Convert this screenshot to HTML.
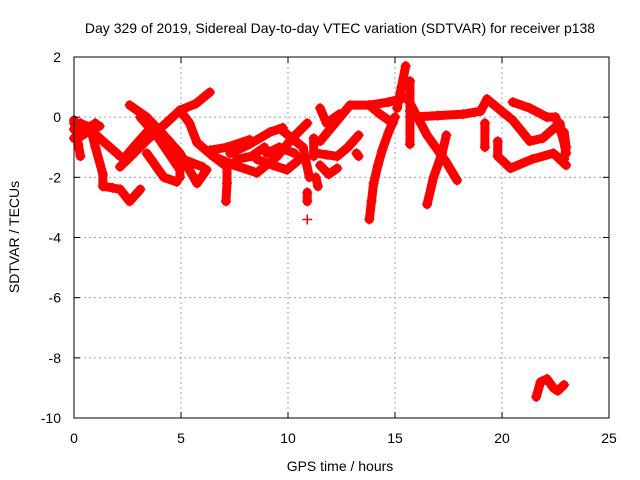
<!DOCTYPE html>
<html><head><meta charset="utf-8"><style>
body{margin:0;background:#fff}
svg{display:block;font-family:"Liberation Sans",Arial,sans-serif}
</style></head><body>
<svg width="640" height="480" viewBox="0 0 640 480">
<rect width="640" height="480" fill="#fff"/>
<text x="340" y="33" font-size="14" text-anchor="middle">Day 329 of 2019, Sidereal Day-to-day VTEC variation (SDTVAR) for receiver p138</text>
<g id="grid"></g>
<g id="marks"></g>
<rect x="74" y="57" width="535" height="361" fill="none" stroke="#000" stroke-width="1"/>
<g id="axes"></g>
<text x="340" y="471" font-size="14" text-anchor="middle">GPS time / hours</text>
<text transform="translate(19,237) rotate(-90)" font-size="14" text-anchor="middle">SDTVAR / TECUs</text>
</svg>
<script>
const xTicks=[0,5,10,15,20,25];
const yTicks=[2,0,-2,-4,-6,-8,-10];
const tracks=[
[[0,-0.1],[0.1,-0.5],[0.2,-0.9],[0.3,-1.3]],
[[0,-0.2],[0.5,-0.5],[1.0,-0.2]],
[[0.75,-0.3],[1.0,-1.0],[1.35,-1.9],[1.35,-2.3],[1.8,-2.35],[2.15,-2.4]],
[[2.15,-2.4],[2.6,-2.8],[3.1,-2.4]],
[[0,-0.4],[0.3,-0.2],[0.6,-0.3],[1.2,-0.7],[2,-1.2],[2.15,-1.3]],
[[0,-0.7],[0.4,-0.6],[0.8,-0.4],[1.2,-0.3]],
[[2.15,-1.65],[2.8,-1.2],[3.5,-0.7],[4.3,-0.2],[4.95,0.23],[5.7,0.45],[6.35,0.83]],
[[2.3,-1.4],[2.9,-0.9],[3.4,-0.5]],
[[2.6,0.4],[3.4,0],[4.2,-0.6],[4.95,-1.2],[5.75,-2.2],[6.2,-1.75]],
[[3.1,0],[3.9,-0.65],[4.95,-1.75],[4.95,-2.0]],
[[3.4,-1.2],[4.2,-2.0],[4.8,-2.15]],
[[4.95,0.23],[5.4,-0.2],[5.75,-0.85],[6.5,-1.3],[7.15,-1.65]],
[[4,-0.4],[4.35,-1.1],[5.1,-1.4],[6.0,-1.65]],
[[6.35,-1.1],[7.15,-1.0],[8.2,-0.75]],
[[6.5,-1.3],[7.5,-1.6],[8.55,-1.85],[9.5,-1.3],[10.2,-0.7],[10.9,-0.2]],
[[7.3,-1.2],[8.2,-0.9],[9.15,-0.5],[9.75,-0.35]],
[[7.6,-1.4],[8.3,-1.3],[8.9,-1.0]],
[[8.55,-1.4],[9.3,-1.6],[9.95,-1.75],[10.7,-1.3]],
[[9.75,-0.45],[10.7,-1.0],[11.0,-2.0]],
[[9.0,-1.2],[9.6,-1.0],[10.3,-1.2]],
[[7.15,-1.65],[7.15,-2.2],[7.1,-2.8]],
[[10.9,-2.5],[10.9,-2.8]],
[[10.9,-3.4]],
[[11.2,-0.7],[11.2,-1.3]],
[[11.3,-2.0],[11.4,-2.3]],
[[11.5,0.3],[11.8,-0.2],[12.4,0.1]],
[[11.35,-1.2],[11.8,-1.25],[12.3,-1.3]],
[[11.5,-1.6],[11.9,-1.9],[12.3,-1.7]],
[[12.3,-1.3],[12.8,-1.0],[13.3,-0.6]],
[[11.5,-0.8],[12.2,-0.2],[12.9,0.4],[13.8,0.4],[14.7,0.5],[15.5,0.65]],
[[13.8,0.4],[14.3,0.1],[14.9,-0.2]],
[[13.8,-3.4],[13.9,-2.8],[14.0,-2.2],[14.2,-1.6],[14.4,-1.1],[14.7,-0.5],[15.0,0]],
[[15.1,0.3],[15.3,1.0],[15.5,1.7]],
[[15.7,1.2],[15.7,0.2],[15.7,-0.9]],
[[15.6,0.6],[16.5,-0.6],[17.4,-1.5],[17.9,-2.1]],
[[17.4,-0.6],[17.2,-1.2],[16.8,-2.0],[16.5,-2.9]],
[[15.8,0.0],[17.0,0.05],[18.2,0.1],[19,0.2],[19.3,0.6]],
[[19.3,0.6],[20.5,-0.1],[21.3,-0.8],[21.9,-0.7],[22.7,-0.2],[23,-1.2]],
[[19.8,-1.3],[20.4,-1.7],[21.4,-1.4],[22.4,-1.2],[23,-1.6]],
[[20.5,0.5],[21.3,0.3],[22.1,0],[22.5,0.0],[22.9,-0.8]],
[[22.9,-0.5],[23.0,-1.0],[22.9,-1.4]],
[[19.2,-0.2],[19.2,-1.0]],
[[19.8,-0.8],[19.8,-1.3]],
[[13.2,-1.2],[13.3,-1.3]],
[[21.6,-9.3],[21.8,-8.8],[22.1,-8.7],[22.4,-9.0],[22.6,-9.1],[22.9,-8.9]]
];
const X0=74,X1=609,Y0=418,Y1=57;
function sx(v){return X0+(v-0)/(25-0)*(X1-X0);}
function sy(v){return Y0-(v+10)/(12)*(Y0-Y1);}
const NS='http://www.w3.org/2000/svg';
const grid=document.getElementById('grid'),axes=document.getElementById('axes'),marks=document.getElementById('marks');
function mk(tag,attrs,parent){const e=document.createElementNS(NS,tag);for(const k in attrs)e.setAttribute(k,attrs[k]);parent.appendChild(e);return e;}
xTicks.forEach(t=>{
  const x=sx(t);
  if(t>0&&t<25){const g=mk('line',{x1:x,y1:Y1,x2:x,y2:Y0,stroke:'#a0a0a0','stroke-dasharray':'2,3'},grid);
  
  }
  mk('line',{x1:x,y1:Y0,x2:x,y2:Y0-6,stroke:'#000'},axes);
  mk('line',{x1:x,y1:Y1,x2:x,y2:Y1+6,stroke:'#000'},axes);
  const l=mk('text',{x:x,y:443,'font-size':14,'text-anchor':'middle'},axes);
  l.textContent=t;
  
  
});
yTicks.forEach(t=>{
  const y=sy(t);
  if(t>-10&&t<2){const g=mk('line',{x1:X0,y1:y,x2:X1,y2:y,stroke:'#a0a0a0','stroke-dasharray':'2,3'},grid);
  
  }
  mk('line',{x1:X0,y1:y,x2:X0+6,y2:y,stroke:'#000'},axes);
  mk('line',{x1:X1,y1:y,x2:X1-6,y2:y,stroke:'#000'},axes);
  const l=mk('text',{x:61,y:y+5,'font-size':14,'text-anchor':'end'},axes);
  l.textContent=t;
  
  
});
tracks.forEach(tr=>{
  if(tr.length>1){
    const p=mk('polyline',{points:tr.map(d=>sx(d[0])+','+sy(d[1])).join(' '),fill:'none',stroke:'#ff0000','stroke-width':9,'stroke-linejoin':'round','stroke-linecap':'round'},marks);
    
    
  }
  tr.forEach(d=>{
    const x=sx(d[0]),y=sy(d[1]);
    const m=mk('path',{d:`M${x-5},${y}H${x+5}M${x},${y-5}V${y+5}`,stroke:'#ff0000','stroke-width':1.5},marks);
    
    
  });
});
</script>
</body></html>
